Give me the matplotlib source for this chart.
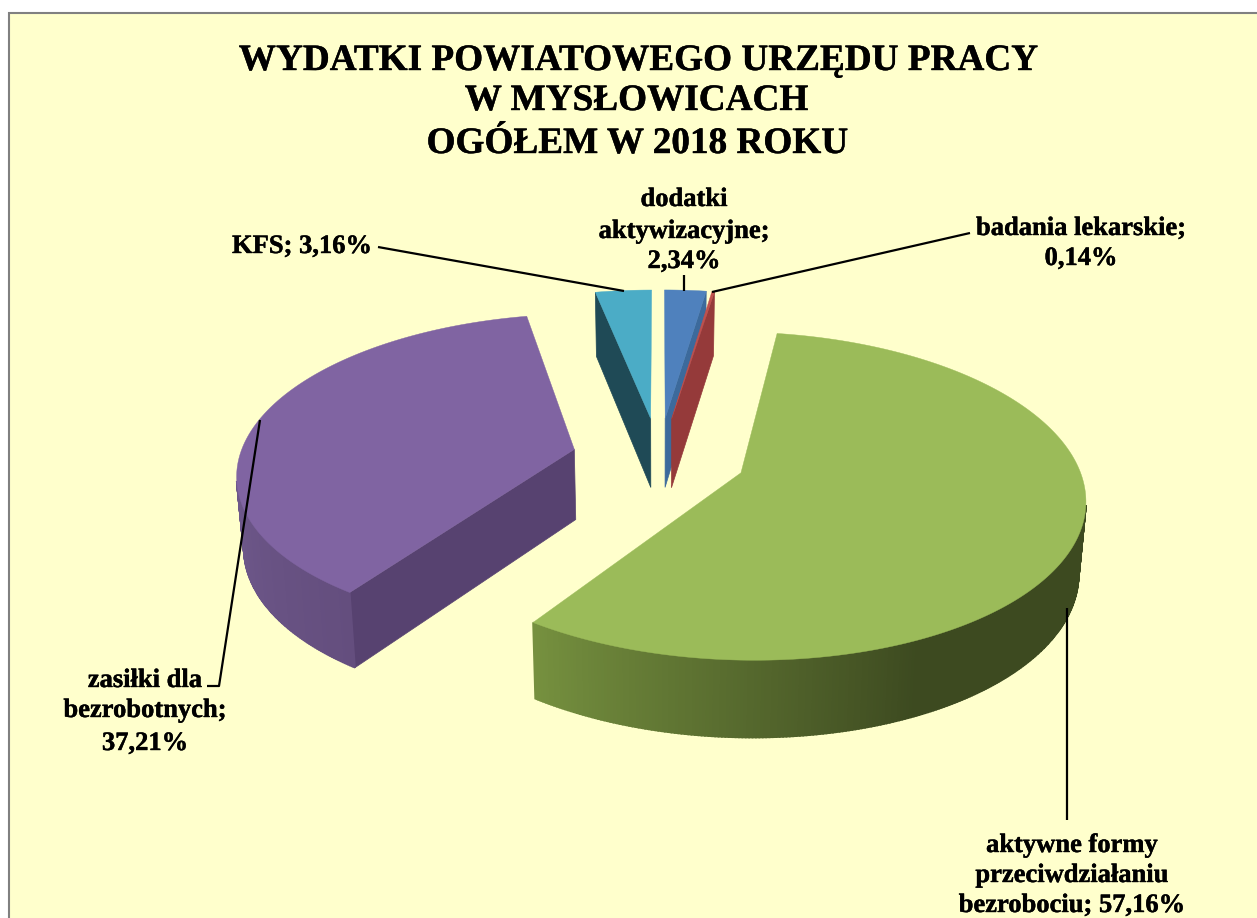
import numpy as np
import matplotlib
matplotlib.use("Agg")
import matplotlib.pyplot as plt
import matplotlib.patheffects as pe

# slices, clockwise from 12 o'clock
names = ["dodatki aktywizacyjne", "badania lekarskie", "aktywne formy przeciwdziałaniu bezrobociu",
         "zasiłki dla bezrobotnych", "KFS"]
values = [2.34, 0.14, 57.16, 37.21, 3.16]

title_lines = ["WYDATKI POWIATOWEGO URZĘDU PRACY", "W MYSŁOWICACH", "OGÓŁEM W 2018 ROKU"]

top_colors = ["#4F81BD", "#C0504D", "#9BBB59", "#8064A2", "#4BACC6"]
side_colors = ["#3C6A9C", "#953A3A", "#3D4A20", "#574270", "#1F4A56"]

BG = "#FFFFCC"
plt.rcParams['font.family'] = ['Liberation Serif', 'DejaVu Serif']

# pie projection, fitted by eye to the picture
CX, CY = 659, 457.5
AX, BY, P = 335, 156.5, 0.14
DEPTH, Q, K = 70.5, 0.08, 0.983
EXPLODE = 0.26


def project(x, y):
    w = 1 + P * y
    return CX + AX * x / w, CY - BY * y / w


def project_low(x, y):
    sx, sy = project(x, y)
    return CX + K * (sx - CX), sy + DEPTH / (1 + Q * y)


def rim_color(i, t):
    # the outer wall gets lighter towards the cut edge
    if i == 2:
        ts = [155, 214.7]
        c0, c1 = np.array([0x3D, 0x4A, 0x20]), np.array([0x76, 0x91, 0x3F])
    elif i == 3:
        ts = [214.7, 270]
        c0, c1 = np.array([0x64, 0x4E, 0x7E]), np.array([0x70, 0x5A, 0x8D])
    else:
        return side_colors[i]
    f = np.clip((t - ts[0]) / (ts[1] - ts[0]), 0, 1)
    return tuple((c0 + f * (c1 - c0)) / 255)


fig = plt.figure(figsize=(12.57, 9.18), dpi=100)
ax = fig.add_axes([0, 0, 1, 1])
ax.set_xlim(0, 1257)
ax.set_ylim(918, 0)
ax.axis("off")

ax.add_patch(plt.Rectangle((9, 13), 1300, 1000, facecolor=BG, edgecolor="#808080", linewidth=1.5))

shares = np.array(values) / sum(values) * 360
ends = np.cumsum(shares)
starts = ends - shares

# far slices first, the big ones lie in front
for i in [4, 0, 1, 3, 2]:
    t0, t1 = starts[i], ends[i]
    mid = np.radians((t0 + t1) / 2)
    ox, oy = EXPLODE * np.sin(mid), EXPLODE * np.cos(mid)
    th = np.linspace(t0, t1, max(int(t1 - t0) * 2, 2) + 1)
    rx = ox + np.sin(np.radians(th))
    ry = oy + np.cos(np.radians(th))

    # cut faces turned to the viewer
    for t, ok in [(t0, np.sin(np.radians(t0)) < -1e-6), (t1, np.sin(np.radians(t1)) > 1e-6)]:
        if ok:
            ex, ey = ox + np.sin(np.radians(t)), oy + np.cos(np.radians(t))
            pts = [project(ox, oy), project(ex, ey), project_low(ex, ey), project_low(ox, oy)]
            ax.fill(*zip(*pts), color=side_colors[i], linewidth=0.5, zorder=2)

    # outer wall, only from the silhouette point round the near side
    for j in range(len(th) - 1):
        if np.cos(np.radians(th[j])) > -0.2 and np.cos(np.radians(th[j + 1])) > -0.2:
            continue
        pts = [project(rx[j], ry[j]), project(rx[j + 1], ry[j + 1]),
               project_low(rx[j + 1], ry[j + 1]), project_low(rx[j], ry[j])]
        ax.fill(*zip(*pts), color=rim_color(i, th[j]), linewidth=1.2, zorder=2)

    # top face
    ax.fill(*project(np.r_[ox, rx], np.r_[oy, ry]), color=top_colors[i], linewidth=0.3, zorder=3)

# leader lines
leaders = [
    [(378, 247), (624, 291)],
    [(684, 275), (684, 291)],
    [(970, 233), (712, 292)],
    [(260, 420), (219, 686), (207, 686)],
    [(1067, 608), (1067, 820)],
]
for line in leaders:
    ax.plot(*zip(*line), color="black", linewidth=1.6, solid_capstyle="butt", zorder=5)

heavier = [pe.withStroke(linewidth=0.3, foreground="black")]

for txt, y, x in zip(title_lines, [70, 110, 153], [639, 637, 638]):
    ax.text(x, y, txt, fontsize=26.8, fontweight="bold", ha="center", va="baseline", zorder=6,
            path_effects=heavier)


def pct(v):
    return f"{v:.2f}".replace(".", ",") + "%"


labels = [
    (684, [206, 238, 268], ["dodatki", "aktywizacyjne;", pct(values[0])]),
    (1081, [235, 265], ["badania lekarskie;", pct(values[1])]),
    (1072, [852, 882, 912], ["aktywne formy", "przeciwdziałaniu", "bezrobociu; " + pct(values[2])]),
    (145, [687, 717, 750], ["zasiłki dla", "bezrobotnych;", pct(values[3])]),
    (302, [253], ["KFS; " + pct(values[4])]),
]
for x, ys, lines in labels:
    for y, line in zip(ys, lines):
        ax.text(x, y, line, fontsize=19.1, fontweight="bold", ha="center", va="baseline", zorder=6,
                path_effects=heavier)

fig.savefig("out.png", dpi=100)
